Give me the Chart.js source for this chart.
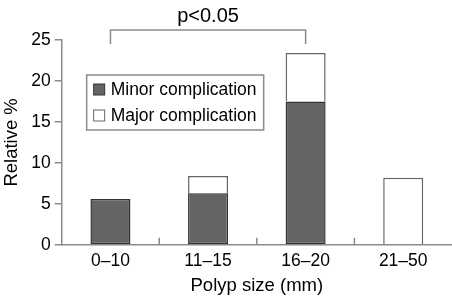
<!DOCTYPE html>
<html>
<head>
<meta charset="utf-8">
<script src="https://cdn.jsdelivr.net/npm/chart.js@4.4.0/dist/chart.umd.min.js"></script>
<style>
    html, body { margin: 0; padding: 0; background: #fff; }
    #wrap { width: 452px; height: 297px; }
</style>
</head>
<body>
<div id="wrap"><canvas id="polypChart"></canvas></div>
<script>
// Polyp size groups and complication rates (relative %)
const sizeLabels = ['0–10', '11–15', '16–20', '21–50'];
const minorValues = [5.6, 6.3, 17.5, null];
const majorValues = [null, 2.1, 5.9, 8.2];
const yTicks = [0, 5, 10, 15, 20, 25];
const pText = 'p<0.05';
const pGroups = [0, 2];

const FONT = '"Liberation Sans", Arial, sans-serif';
const AXIS_GREY = '#8a8a8a';

// Small upward ticks between the categories on the x axis
const innerTicksPlugin = {
    id: 'innerTicks',
    afterDraw(chart) {
        const x = chart.scales.x;
        const ctx = chart.ctx;
        const bottom = chart.chartArea.bottom;
        ctx.save();
        ctx.strokeStyle = AXIS_GREY;
        ctx.lineWidth = 1.5;
        for (let i = 0; i < sizeLabels.length - 1; i++) {
            const px = (x.getPixelForValue(i) + x.getPixelForValue(i + 1)) / 2;
            ctx.beginPath();
            ctx.moveTo(px, bottom);
            ctx.lineTo(px, bottom - 7);
            ctx.stroke();
        }
        ctx.restore();
    }
};

// Significance bracket above the chart
const bracketPlugin = {
    id: 'pBracket',
    afterDraw(chart) {
        const x = chart.scales.x;
        const ctx = chart.ctx;
        const x1 = x.getPixelForValue(pGroups[0]);
        const x2 = x.getPixelForValue(pGroups[1]);
        const top = chart.chartArea.top - 10;
        ctx.save();
        ctx.strokeStyle = AXIS_GREY;
        ctx.lineWidth = 1.5;
        ctx.beginPath();
        ctx.moveTo(x1, top + 14);
        ctx.lineTo(x1, top);
        ctx.lineTo(x2, top);
        ctx.lineTo(x2, top + 14);
        ctx.stroke();
        ctx.fillStyle = '#000';
        ctx.font = '20px ' + FONT;
        ctx.textAlign = 'center';
        ctx.textBaseline = 'middle';
        ctx.fillText(pText, (x1 + x2) / 2, top - 14);
        ctx.restore();
    }
};

// Boxed legend inside the plot area
const boxLegendPlugin = {
    id: 'boxLegend',
    afterDraw(chart) {
        const ctx = chart.ctx;
        const area = chart.chartArea;
        const left = area.left + 25;
        const top = area.top + 35;
        const w = 177, h = 55;
        ctx.save();
        ctx.fillStyle = '#fff';
        ctx.fillRect(left, top, w, h);
        ctx.strokeStyle = AXIS_GREY;
        ctx.lineWidth = 1.5;
        ctx.strokeRect(left, top, w, h);
        ctx.font = '17.5px ' + FONT;
        ctx.textBaseline = 'middle';
        chart.data.datasets.forEach((ds, i) => {
            const cy = top + 15 + i * 26;
            ctx.fillStyle = ds.backgroundColor;
            ctx.fillRect(left + 7, cy - 6, 11, 11);
            ctx.strokeStyle = ds.borderColor;
            ctx.lineWidth = 1;
            ctx.strokeRect(left + 7, cy - 6, 11, 11);
            ctx.fillStyle = '#000';
            ctx.fillText(ds.label, left + 24, cy);
        });
        ctx.restore();
    }
};

function initializePolypChart() {
    const ctx = document.getElementById('polypChart');
    if (!ctx) return;

    new Chart(ctx, {
        type: 'bar',
        data: {
            labels: sizeLabels,
            datasets: [{
                label: 'Minor complication',
                data: minorValues,
                backgroundColor: '#646464',
                borderColor: '#333333',
                borderWidth: 1.5,
                borderSkipped: false,
                categoryPercentage: 1,
                barPercentage: 0.41
            }, {
                label: 'Major complication',
                data: majorValues,
                backgroundColor: '#ffffff',
                borderColor: '#666666',
                borderWidth: 1.5,
                borderSkipped: 'bottom',
                categoryPercentage: 1,
                barPercentage: 0.41
            }]
        },
        options: {
            responsive: true,
            maintainAspectRatio: false,
            animation: false,
            layout: {
                padding: { top: 40, right: 0, left: 0, bottom: 0 }
            },
            scales: {
                x: {
                    stacked: true,
                    grid: { display: false, drawTicks: false, tickLength: 0 },
                    border: { color: AXIS_GREY, width: 1.5 },
                    ticks: {
                        color: '#000',
                        padding: 6,
                        font: { family: FONT, size: 17.5 }
                    },
                    title: {
                        display: true,
                        text: 'Polyp size (mm)',
                        color: '#000',
                        padding: { top: -3, bottom: 0 },
                        font: { family: FONT, size: 18.5 }
                    }
                },
                y: {
                    stacked: true,
                    min: yTicks[0],
                    max: yTicks[yTicks.length - 1],
                    afterBuildTicks: axis => {
                        axis.ticks = yTicks.map(v => ({ value: v }));
                    },
                    grid: {
                        drawOnChartArea: false,
                        drawTicks: true,
                        tickLength: 7,
                        color: AXIS_GREY,
                        lineWidth: 1.5
                    },
                    border: { color: AXIS_GREY, width: 1.5 },
                    ticks: {
                        color: '#000',
                        padding: 4,
                        font: { family: FONT, size: 17.5 }
                    },
                    title: {
                        display: true,
                        text: 'Relative %',
                        color: '#000',
                        padding: { top: 1, bottom: 4 },
                        font: { family: FONT, size: 18.5 }
                    }
                }
            },
            plugins: {
                legend: { display: false },
                tooltip: { enabled: false }
            }
        },
        plugins: [innerTicksPlugin, bracketPlugin, boxLegendPlugin]
    });
}

initializePolypChart();
</script>
</body>
</html>
